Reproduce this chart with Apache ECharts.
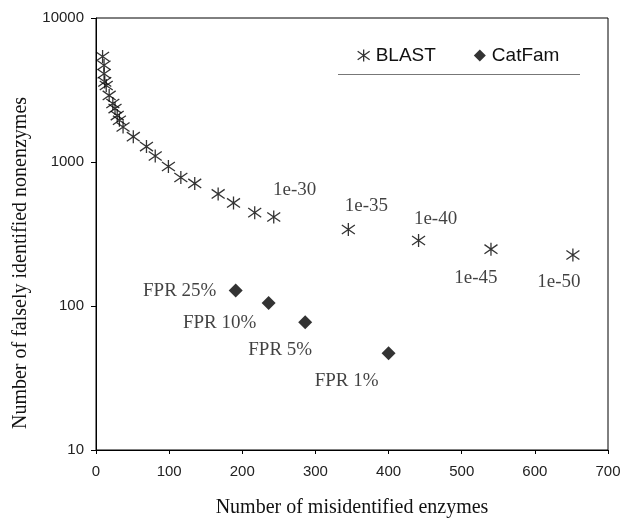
<!DOCTYPE html>
<html><head><meta charset="utf-8">
<script src="https://cdn.jsdelivr.net/npm/echarts@6/dist/echarts.min.js"></script>
<style>html,body{margin:0;padding:0;background:#fff}#c{width:623px;height:519px}</style>
</head><body><div id="c"></div>
<script>
// ---- data ----
const blastX = [9, 11, 11, 12, 14, 18, 23, 26, 29, 32, 37, 51, 69, 81, 99, 116, 135, 167, 188, 217, 243, 345, 441, 540, 652];
const blastY = [5400, 4700, 4100, 3600, 3400, 2900, 2550, 2350, 2100, 1950, 1750, 1500, 1280, 1100, 930, 780, 710, 600, 520, 445, 415, 340, 285, 248, 226];
const blastLabels = ['', '', '', '', '', '', '', '', '', '', '', '', '', '', '', '', '', '', '', '', '1e-30', '1e-35', '1e-40', '1e-45', '1e-50'];
const catX = [191, 236, 286, 400];
const catY = [128, 105, 77, 47];
const catLabels = ['FPR 25%', 'FPR 10%', 'FPR 5%', 'FPR 1%'];
const xTicks = [0, 100, 200, 300, 400, 500, 600, 700];
const yTicks = [10, 100, 1000, 10000];

// ---- label placement (pixel offsets from marker centre) ----
const blastLabelOffsets = {'1e-30': [21, -27], '1e-35': [18, -23], '1e-40': [17, -21], '1e-45': [-15, 29], '1e-50': [-14, 27]};
const catLabelOffsets = {'FPR 25%': [-56, 0], 'FPR 10%': [-49, 20], 'FPR 5%': [-25, 28], 'FPR 1%': [-42, 28]};

const serif = '"Liberation Serif", "DejaVu Serif", serif';
const sans = '"Liberation Sans", Arial, sans-serif';
const ink = '#000';
const asterisk = 'path://M0,1.5L10,8.5M10,1.5L0,8.5M5,0L5,10';

function mk(xs, ys, labels, offs) {
  return xs.map((x, i) => {
    const d = {value: [x, ys[i]]};
    const t = labels[i];
    if (t) {
      d.label = {show: true, formatter: t, position: 'inside', offset: offs[t],
        color: '#111', fontFamily: serif, fontSize: 19, align: 'center', verticalAlign: 'middle'};
    }
    return d;
  });
}

const chart = echarts.init(document.getElementById('c'), null, {renderer: 'canvas'});
chart.setOption({
  animation: false,
  backgroundColor: '#fff',
  grid: {left: 96, right: 15, top: 18, bottom: 69, show: true, borderColor: '#000', borderWidth: 1,
    containLabel: false, outerBoundsMode: 'none'},
  legend: {
    left: 352, top: 41, itemGap: 38, itemWidth: 12, itemHeight: 12,
    textStyle: {fontFamily: sans, fontSize: 19, color: '#111', padding: [0, 0, 0, 1]},
    data: [
      {name: 'BLAST', icon: asterisk, itemStyle: {color: 'transparent', borderColor: ink, borderWidth: 1.3}},
      {name: 'CatFam', icon: 'diamond', itemStyle: {color: ink, borderWidth: 0}}
    ]
  },
  xAxis: {
    type: 'value', min: xTicks[0], max: xTicks[xTicks.length - 1], interval: 100,
    axisLine: {show: true, onZero: false, lineStyle: {color: '#000', width: 1}},
    axisTick: {show: true, inside: false, length: 4, lineStyle: {color: '#000'}},
    axisLabel: {fontFamily: sans, fontSize: 15, color: '#222', margin: 14},
    splitLine: {show: false},
    name: 'Number of misidentified enzymes', nameLocation: 'middle', nameGap: 48,
    nameTextStyle: {fontFamily: serif, fontSize: 20, color: '#111'}
  },
  yAxis: {
    type: 'log', logBase: 10, min: yTicks[0], max: yTicks[yTicks.length - 1],
    axisLine: {show: true, lineStyle: {color: '#000', width: 1}},
    axisTick: {show: true, inside: false, length: 5, lineStyle: {color: '#000'}},
    axisLabel: {fontFamily: sans, fontSize: 15, color: '#222', margin: 12,
      formatter: v => String(Math.round(v))},
    splitLine: {show: false},
    minorTick: {show: false}
  },
  graphic: [
    {type: 'text', rotation: Math.PI / 2, position: [21, 263],
      style: {text: 'Number of falsely identified nonenzymes', font: '20px ' + serif, fill: '#111',
        align: 'center', verticalAlign: 'middle'}},
    {type: 'line', shape: {x1: 338, y1: 74.5, x2: 580, y2: 74.5}, style: {stroke: '#777', lineWidth: 1}}
  ],
  series: [
    {name: 'BLAST', type: 'scatter', symbol: asterisk, symbolSize: 13,
      itemStyle: {color: 'transparent', borderColor: ink, borderWidth: 1.3},
      data: mk(blastX, blastY, blastLabels, blastLabelOffsets), z: 3},
    {name: 'CatFam', type: 'scatter', symbol: 'diamond', symbolSize: 14,
      itemStyle: {color: ink},
      data: mk(catX, catY, catLabels, catLabelOffsets), z: 3}
  ]
});
</script></body></html>
